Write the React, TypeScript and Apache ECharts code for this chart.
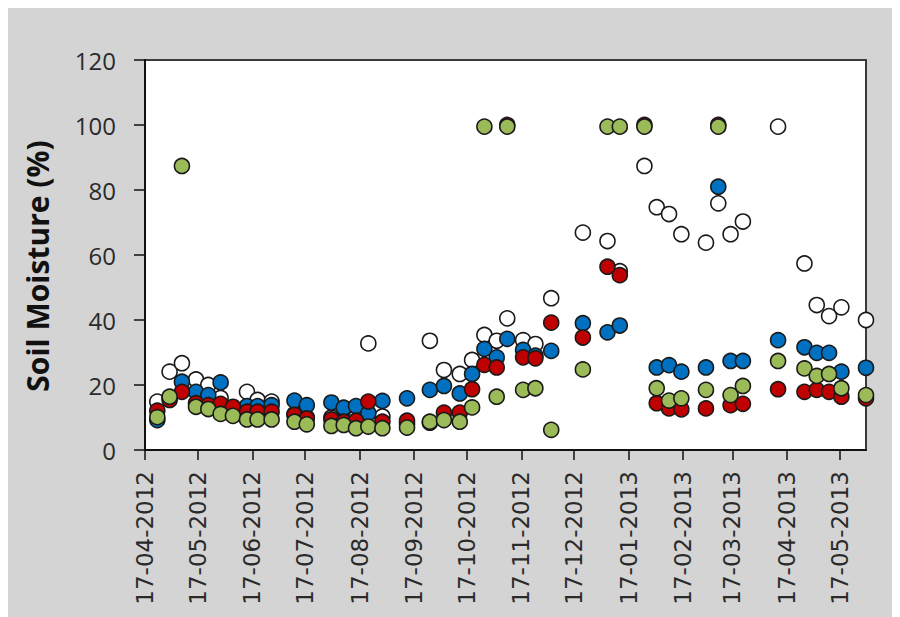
import React, { useEffect, useRef } from "react";
import * as echarts from "echarts";

const tickDates = [
  "2012-04-17", "2012-05-17", "2012-06-17", "2012-07-17", "2012-08-17", "2012-09-17", "2012-10-17",
  "2012-11-17", "2012-12-17", "2013-01-17", "2013-02-17", "2013-03-17", "2013-04-17", "2013-05-17",
];

const sampleDates = [
  "2012-04-24", "2012-05-01", "2012-05-08", "2012-05-16", "2012-05-23", "2012-05-30", "2012-06-06",
  "2012-06-14", "2012-06-20", "2012-06-28", "2012-07-11", "2012-07-18", "2012-08-01", "2012-08-08",
  "2012-08-15", "2012-08-22", "2012-08-30", "2012-09-13", "2012-09-26", "2012-10-04", "2012-10-13",
  "2012-10-20", "2012-10-27", "2012-11-03", "2012-11-09", "2012-11-18", "2012-11-25", "2012-12-04",
  "2012-12-22", "2013-01-05", "2013-01-12", "2013-01-26", "2013-02-02", "2013-02-09", "2013-02-16",
  "2013-03-02", "2013-03-09", "2013-03-16", "2013-03-23", "2013-04-12", "2013-04-27", "2013-05-04",
  "2013-05-11", "2013-05-18", "2013-06-01",
];

const whiteValues = [
  14.9, 24.1, 26.7, 21.7, 20, 16, 13, 17.9, 15.4, 14.9, 11, 10, 10, 9, 10, 32.8, 10.3, 8, 33.6, 24.6,
  23.4, 27.7, 35.4, 33.6, 40.5, 33.8, 32.6, 46.7, 66.9, 64.3, 55, 87.4, 74.7, 72.6, 66.4, 63.8, 75.9,
  66.4, 70.3, 99.5, 57.4, 44.6, 41.2, 43.9, 40,
];
const blueValues = [
  9.2, 16, 21, 17.9, 16.9, 20.8, 12.3, 13.5, 13.5, 13.8, 15.2, 13.8, 14.6, 13, 13.5, 11.3, 15.1, 15.9,
  18.5, 19.7, 17.4, 23.4, 31.1, 28.5, 34.2, 30.8, 29, 30.5, 39, 36.2, 38.3, null, 25.4, 26.1, 24.1,
  25.4, 81, 27.4, 27.4, 33.8, 31.6, 29.9, 29.9, 24.1, 25.3,
];
const redValues = [
  12.1, 15.4, 17.9, 14.4, 13.8, 14.2, 13.3, 11.8, 11.8, 11.8, 10.8, 9.7, 9.4, 8.7, 9, 14.9, 8.7, 9,
  8.4, 11.5, 11.5, 18.7, 26.2, 25.4, 100, 28.5, 28.2, 39.2, 34.6, 56.4, 53.8, 100, 14.4, 12.8, 12.5,
  12.8, 100, 13.8, 14.2, 18.7, 17.9, 18.5, 17.9, 16.4, 15.9,
];
const greenValues = [
  10.1, 16.4, 87.4, 13.3, 12.6, 11.1, 10.5, 9.4, 9.4, 9.4, 8.7, 7.9, 7.4, 7.7, 6.7, 7.2, 6.7, 6.9, 8.7,
  9.2, 8.7, 13.1, 99.5, 16.4, 99.5, 18.5, 19, 6.2, 24.8, 99.5, 99.5, 99.5, 19, 15.2, 15.9, 18.5, 99.5,
  16.9, 19.7, 27.4, 25.1, 22.8, 23.4, 19, 16.9,
];

const yTicks = [0, 20, 40, 60, 80, 100, 120];

function toTs(s: string): number {
  const [y, m, d] = s.split("-").map(Number);
  return new Date(y, m - 1, d).getTime();
}

function pad(n: number) {
  return n < 10 ? "0" + n : "" + n;
}

function makeData(vals: (number | null)[]) {
  const out: [number, number][] = [];
  vals.forEach((v, i) => {
    if (v !== null && v !== undefined) out.push([toTs(sampleDates[i]), v]);
  });
  return out;
}

export default function App() {
  const ref = useRef<HTMLDivElement>(null);
  useEffect(() => {
    if (!ref.current) return;
    const chart = echarts.init(ref.current, null, { renderer: "svg" });
    const ticks = tickDates.map(toTs);
    const mk = (name: string, vals: (number | null)[], color: string) => ({
      name,
      type: "scatter",
      data: makeData(vals),
      symbol: "circle",
      symbolSize: 15,
      clip: false,
      itemStyle: { color, borderColor: "#1a1a1a", borderWidth: 1.6, opacity: 1 },
    });
    chart.setOption({
      animation: false,
      backgroundColor: "#d4d4d4",
      grid: {
        left: 137,
        right: 34,
        top: 52,
        bottom: 167,
        show: true,
        backgroundColor: "#ffffff",
        borderColor: "#3a3a3a",
        borderWidth: 2,
      },
      xAxis: {
        type: "value",
        min: toTs("2012-04-17"),
        max: toTs("2013-06-01"),
        splitLine: { show: false },
        axisLine: { show: true, lineStyle: { color: "#111", width: 2 } },
        axisTick: {
          show: true,
          customValues: ticks,
          length: 10,
          lineStyle: { color: "#111", width: 1.5 },
        },
        axisLabel: {
          customValues: ticks,
          rotate: 90,
          margin: 21,
          fontFamily: "DejaVu Sans",
          fontSize: 23,
          color: "#2a2a2a",
          formatter: (val: number) => {
            const d = new Date(val);
            return pad(d.getDate()) + "-" + pad(d.getMonth() + 1) + "-" + d.getFullYear();
          },
        },
      },
      yAxis: {
        type: "value",
        min: yTicks[0],
        max: yTicks[yTicks.length - 1],
        interval: 20,
        name: "Soil Moisture (%)",
        nameLocation: "middle",
        nameRotate: 90,
        nameGap: 93,
        nameTextStyle: {
          fontFamily: "Open Sans",
          fontWeight: "bold",
          fontSize: 30,
          color: "#111",
          padding: [0, 22, 0, 0],
        },
        splitLine: { show: false },
        axisLine: { show: true, lineStyle: { color: "#111", width: 2 } },
        axisTick: { show: true, length: 11, lineStyle: { color: "#111", width: 1.5 } },
        axisLabel: {
          margin: 29,
          fontFamily: "Open Sans",
          fontSize: 24,
          color: "#2a2a2a",
        },
      },
      series: [
        mk("White", whiteValues, "#ffffff"),
        mk("Blue", blueValues, "#0070c0"),
        mk("Red", redValues, "#c00000"),
        mk("Green", greenValues, "#9bbb59"),
      ],
    });
    return () => chart.dispose();
  }, []);
  return <div ref={ref} style={{ width: 892, height: 609 }} />;
}
